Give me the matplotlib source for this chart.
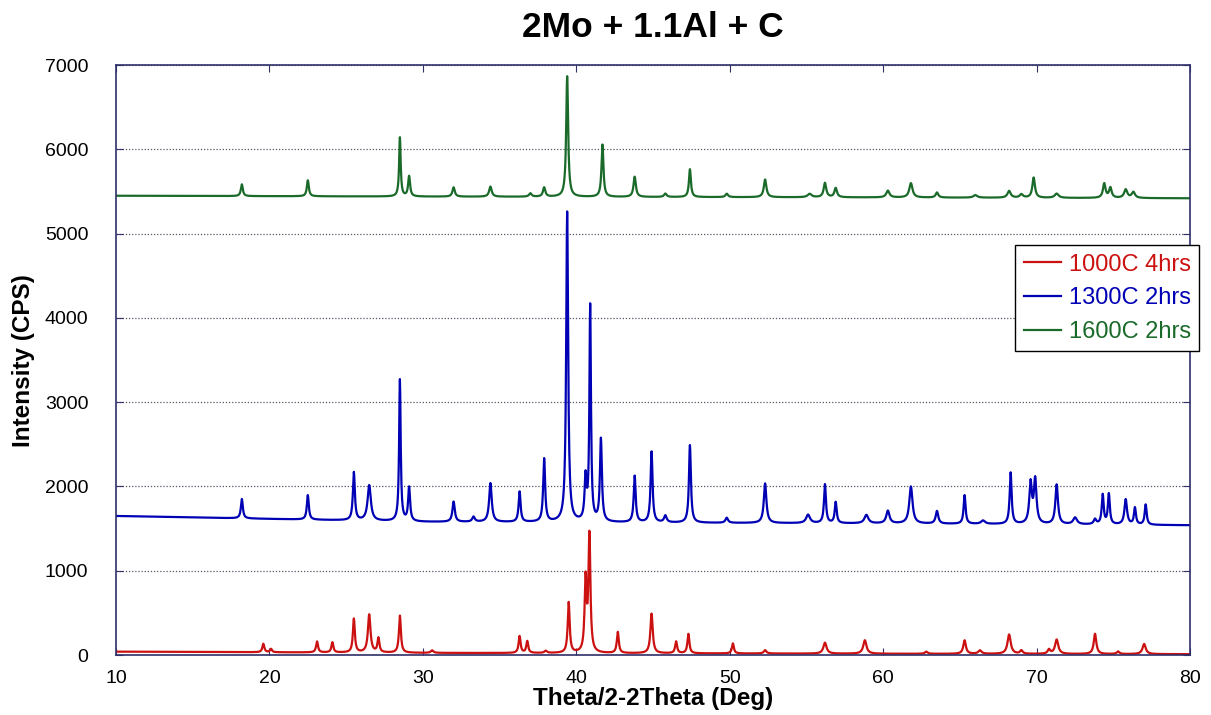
"""XRD patterns of 2Mo + 1.1Al + C after heat treatment at three temperatures."""
import numpy as np

import matplotlib
matplotlib.use("Agg")
import matplotlib.pyplot as plt

plt.rcParams["font.family"] = ["Liberation Sans", "DejaVu Sans"]

labels = ["1000C 4hrs", "1300C 2hrs", "1600C 2hrs"]
colors = ["#cc1111", "#0000b4", "#1a6a2a"]

# background level (CPS) at 2theta = 10, 30, 60, 80
bg_theta = [10, 30, 60, 80]
bg_1000 = [40, 25, 15, 10]
bg_1300 = [1650, 1580, 1560, 1540]
bg_1600 = [5450, 5440, 5430, 5420]

# peak positions (deg), heights above background (CPS), FWHM (deg)
pos_1000 = [19.6, 20.1, 23.1, 24.1, 25.5, 26.5, 27.1, 28.5, 30.6, 36.3, 36.8,
            38.0, 39.5, 40.6, 40.85, 42.7, 44.9, 46.5, 47.3, 50.2, 52.3, 56.2,
            58.8, 62.8, 65.3, 66.3, 68.2, 69.0, 70.8, 71.3, 73.8, 75.3, 77.0]
amp_1000 = [100, 40, 130, 120, 400, 450, 170, 440, 30, 200, 140,
            25, 600, 850, 1400, 250, 470, 140, 230, 120, 40, 130,
            160, 25, 160, 40, 230, 40, 50, 170, 240, 30, 120]
wid_1000 = [0.15, 0.15, 0.15, 0.15, 0.15, 0.2, 0.15, 0.15, 0.2, 0.15, 0.15,
            0.2, 0.15, 0.15, 0.15, 0.15, 0.18, 0.15, 0.15, 0.15, 0.2, 0.25,
            0.25, 0.2, 0.2, 0.25, 0.25, 0.2, 0.2, 0.25, 0.2, 0.2, 0.25]

pos_1300 = [18.2, 22.5, 25.5, 26.5, 28.5, 29.1, 32.0, 33.3, 34.4, 36.3, 37.9,
            39.4, 40.6, 40.9, 41.6, 43.8, 44.9, 45.8, 47.4, 49.8, 52.3, 55.1,
            56.2, 56.9, 58.9, 60.3, 61.8, 63.5, 65.3, 66.5, 68.3, 69.6, 69.9,
            71.3, 72.5, 73.8, 74.3, 74.7, 75.8, 76.4, 77.1]
amp_1300 = [230, 290, 570, 420, 1680, 400, 240, 60, 460, 360, 750,
            3680, 500, 2550, 980, 550, 840, 80, 920, 60, 470, 100,
            460, 250, 100, 150, 440, 150, 340, 40, 610, 480, 520,
            470, 80, 60, 350, 360, 300, 200, 240]
wid_1300 = [0.15, 0.15, 0.15, 0.25, 0.12, 0.15, 0.18, 0.2, 0.2, 0.15, 0.15,
            0.15, 0.15, 0.12, 0.15, 0.15, 0.15, 0.2, 0.15, 0.2, 0.2, 0.3,
            0.15, 0.15, 0.3, 0.25, 0.25, 0.2, 0.15, 0.3, 0.15, 0.2, 0.2,
            0.2, 0.3, 0.2, 0.15, 0.15, 0.2, 0.15, 0.15]

pos_1600 = [18.2, 22.5, 28.5, 29.1, 32.0, 34.4, 37.0, 37.9, 39.4, 41.7, 43.8,
            45.8, 47.4, 49.8, 52.3, 55.2, 56.2, 56.9, 60.3, 61.8, 63.5, 66.0,
            68.2, 69.0, 69.8, 71.3, 74.4, 74.8, 75.8, 76.3]
amp_1600 = [140, 190, 700, 240, 110, 120, 40, 110, 1430, 620, 240,
            40, 330, 40, 210, 40, 170, 110, 80, 170, 60, 30,
            80, 40, 240, 50, 170, 120, 100, 70]
wid_1600 = [0.15, 0.15, 0.12, 0.15, 0.18, 0.2, 0.2, 0.18, 0.15, 0.15, 0.18,
            0.2, 0.15, 0.2, 0.2, 0.3, 0.2, 0.2, 0.25, 0.25, 0.2, 0.3,
            0.25, 0.25, 0.2, 0.3, 0.2, 0.2, 0.25, 0.25]


def pattern(theta, bg, pos, amp, wid):
    y = np.interp(theta, bg_theta, bg)
    for p, a, w in zip(pos, amp, wid):
        hw = w / 2.0
        y = y + a / (1.0 + ((theta - p) / hw) ** 2)
    return y


theta = np.arange(10, 80.001, 0.02)
curves = [pattern(theta, bg_1000, pos_1000, amp_1000, wid_1000),
          pattern(theta, bg_1300, pos_1300, amp_1300, wid_1300),
          pattern(theta, bg_1600, pos_1600, amp_1600, wid_1600)]

fig = plt.figure(figsize=(12.11, 7.15), dpi=100)
ax = fig.add_axes([0.0958, 0.0839, 0.887, 0.825])

for y, lab, c in zip(curves, labels, colors):
    ax.plot(theta, y, color=c, lw=1.6, label=lab)

ax.set_xlim(10, 80)
ax.set_ylim(0, 7000)
ax.set_xticks(range(10, 81, 10))
ax.set_yticks(range(0, 7001, 1000))
ax.yaxis.grid(True, linestyle=(0, (1, 1.5)), color="#555566", lw=0.9)
ax.tick_params(direction="in", top=True, right=True, labelsize=14,
               length=5, color="#30306a")
ax.tick_params(axis="x", pad=11)
ax.tick_params(axis="y", pad=20)
for s in ax.spines.values():
    s.set_color("#30306a")
    s.set_linewidth(1.2)

ax.set_xlabel("Theta/2-2Theta (Deg)", fontsize=17.5, fontweight="bold", labelpad=0)
ax.set_ylabel("Intensity (CPS)", fontsize=17.5, fontweight="bold", labelpad=7)
ax.set_title("2Mo + 1.1Al + C", fontsize=25.5, fontweight="bold", pad=20)

leg = ax.legend(loc="upper right", bbox_to_anchor=(0.99, 0.657),
                bbox_transform=fig.transFigure, fontsize=17,
                frameon=True, fancybox=False, framealpha=1, edgecolor="black",
                handlelength=1.6, handletextpad=0.3, borderpad=0.35,
                labelspacing=0.5, borderaxespad=0)
leg.get_frame().set_linewidth(1.0)
for txt, c in zip(leg.get_texts(), colors):
    txt.set_color(c)

fig.savefig("out.png", dpi=100)
